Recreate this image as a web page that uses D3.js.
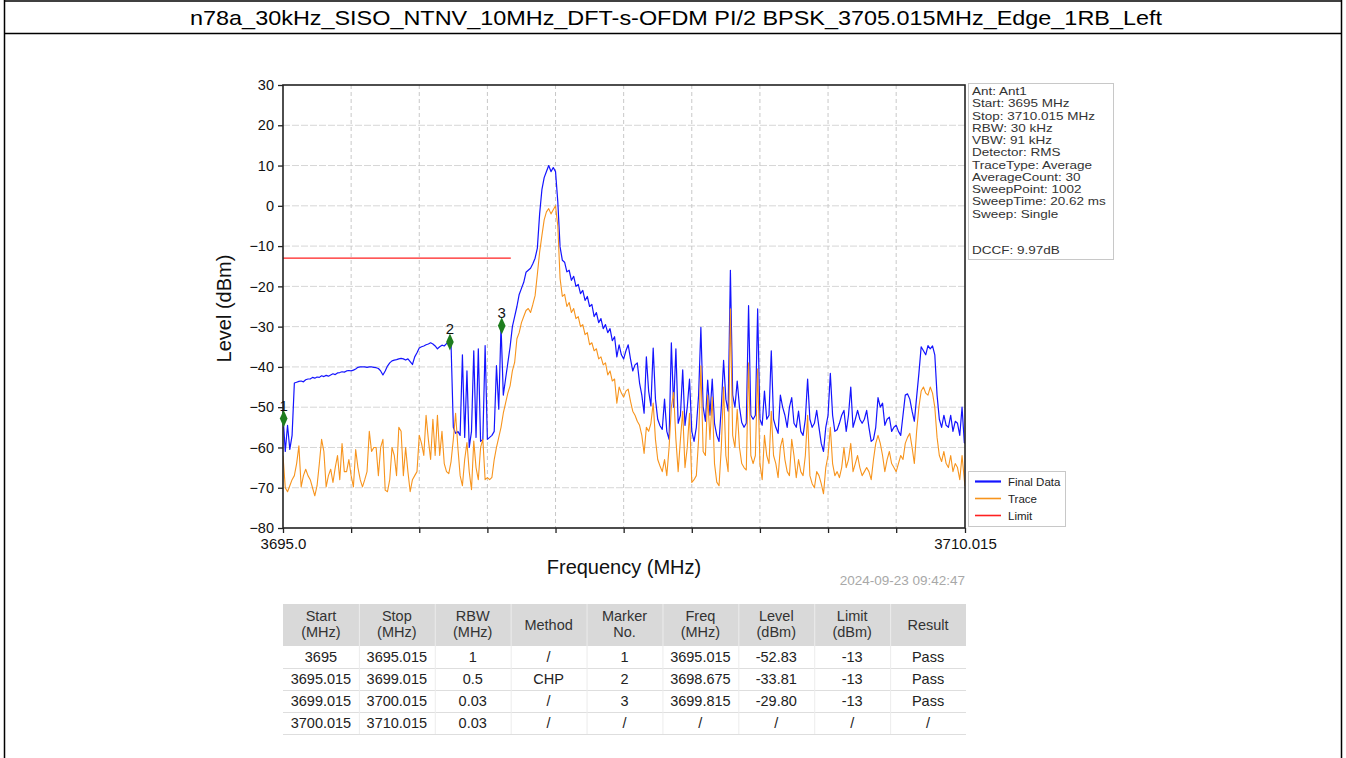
<!DOCTYPE html>
<html>
<head>
<meta charset="utf-8">
<script src="https://cdn.jsdelivr.net/npm/d3@7"></script>
<style>
  body { margin: 0; background: #fff; }
  svg { display: block; font-family: "Liberation Sans", Arial, sans-serif; }
</style>
</head>
<body>
<svg id="chart" width="1346" height="758"></svg>
<script>
// ---- Sweep settings ----
const titleText = "n78a_30kHz_SISO_NTNV_10MHz_DFT-s-OFDM PI/2 BPSK_3705.015MHz_Edge_1RB_Left";
const sweepStart = 3695;
const sweepStop = 3710.015;
const sweepStep = 0.05;

// ---- Final Data trace (dBm), one value per sweep step, last value at stop frequency ----
const finalData = [
  -52, -61, -54.5, -60.5, -57, -44, -43.8, -43.6, -43.5, -43.7, -43.2, -43, -43, -42.6, -42.8, -42.5, -42.6, -42.2, -42.4, -42.1,
  -42.3, -42, -41.7, -41.9, -41.5, -41.4, -41.2, -41.3, -41, -40.9, -41, -40.8, -40.5, -40.1, -40, -40, -40, -40.1, -40, -40,
  -40.1, -40.2, -40.4, -41, -42, -41, -39.8, -39, -38.5, -38.3, -38.2, -38, -37.9, -38, -38.3, -38, -38.7, -39.4, -37.5, -36.5,
  -35.3, -35, -34.8, -34.5, -34.3, -34, -34.3, -34.8, -35.5, -35, -34.6, -34.8, -34.2, -33.8, -34.5, -55, -56.5, -56, -57, -37,
  -57.5, -41, -60, -56, -36, -57.5, -35.5, -58.5, -58, -34.7, -58, -57.5, -57, -56, -39.7, -50.5, -29.8, -47, -43, -39,
  -35, -30, -27.5, -25, -22, -20.5, -19, -16.5, -16, -15.5, -14.4, -13, -10.5, -2, 4, 7, 8.5, 10, 8.5, 9.5,
  8.5, 1, -10.2, -13.5, -14, -16.4, -16, -18.5, -17.5, -20, -19.5, -21.8, -21, -23.5, -22.5, -25, -24.5, -27.5, -26.5, -29,
  -28, -30.5, -29.5, -31.5, -30.5, -33.5, -32.5, -37.5, -34.5, -37, -38, -36, -34.5, -38, -41, -39.5, -39, -44, -47, -51.5,
  -37.5, -46, -49.7, -35.3, -48, -53, -54.6, -55.5, -48, -56, -58, -34, -50, -35.5, -54, -52, -40.7, -54.5, -50, -43,
  -56, -58.5, -55, -47, -30.2, -50, -53.5, -43.3, -52, -43, -54, -57, -58.5, -50, -38.4, -48, -51, -16, -47, -50,
  -43.5, -50, -53.8, -55, -54, -24.8, -52, -53, -52, -25.6, -53, -54.5, -46, -53, -52, -36, -53, -55, -56.5, -47,
  -50, -52, -55, -50, -47.6, -54, -55, -51, -56, -57, -53, -43, -53, -55, -54, -50.8, -55, -59, -61, -55,
  -52, -41.6, -52, -56, -55.6, -54, -52, -50.8, -56, -52, -45, -55, -53, -50.8, -53, -54, -53, -50.8, -55, -58.5,
  -58, -55, -47.6, -50, -49, -54.5, -53, -52.5, -56, -55, -54.5, -56, -57, -52, -47, -46.7, -48, -51, -53.5, -47.5,
  -41.6, -35, -36, -37, -34.7, -35.5, -34.8, -37, -47, -53, -55, -52, -54.5, -55, -52, -56, -53.5, -54, -57, -50,
  -58.8, -59
];

// ---- Trace (dBm) ----
const traceData = [
  -62, -70, -71, -69.5, -68, -67, -64, -59.6, -69.8, -67, -65.4, -67, -68, -70, -72, -69.5, -64, -58, -61, -69.8,
  -67, -65.4, -68.7, -65, -62, -68, -59, -66, -66, -63, -67, -69.8, -60.5, -65, -68, -69.8, -68, -66, -56, -61,
  -60, -60, -67, -60, -58, -70.6, -71, -68, -60, -62, -67, -55, -56, -67, -60, -66, -71, -68, -67, -66,
  -57, -59, -62, -52, -58, -63, -53, -62, -52, -62, -56, -64, -66, -66.5, -63.5, -58, -51.5, -60, -67, -69.5,
  -63, -58.8, -66, -70.5, -58.4, -65, -68, -60, -58, -68, -67.5, -68, -67.4, -63, -60, -57.5, -55, -51.5, -49, -46.5,
  -44.7, -41, -38.9, -33, -31.5, -29, -27.5, -26, -25.5, -26.5, -24.5, -22.3, -17, -11.5, -7.4, -3.5, -1.5, -0.7, -2, -1,
  0, -5, -18, -22.5, -22, -25, -24, -26.5, -25.5, -28, -27.5, -30, -29.5, -32, -31.5, -34.5, -34, -36, -35.5, -38,
  -37.5, -39.5, -39, -42, -41, -43.5, -43, -49, -45, -46.5, -47.5, -46, -45.5, -48.5, -51, -52, -53.5, -54.5, -57, -61.5,
  -55, -56, -54, -49, -58, -63, -64.6, -66, -63, -67, -60, -50, -46.3, -58, -66, -58, -51, -65, -60, -51.5,
  -68.7, -68, -67, -58, -39.7, -61, -62, -47, -58, -47.5, -64, -68.6, -69.5, -60, -45, -62, -66, -25.6, -57, -60,
  -50.5, -60, -64, -65, -65.6, -39, -62, -64, -62, -40.5, -64, -68, -57, -62, -64, -51, -62, -64, -67.5, -60,
  -57.7, -63, -66, -67, -58, -62, -67.5, -63, -66, -67, -62, -52, -67, -69, -70, -66, -67, -69, -71.5, -65,
  -62, -55, -64, -67, -66, -67.5, -65, -60, -65, -63, -59, -66, -64, -62, -65, -67, -66, -65, -66, -68,
  -63, -59, -57, -59, -62, -66, -63, -61, -64, -65, -66, -64, -62, -63, -59, -57.5, -56.5, -60, -64, -56,
  -50, -46, -45, -46.5, -47, -45, -46.5, -50, -57.5, -62, -63.5, -61, -64, -65, -62, -66, -64, -65, -68, -62,
  -68, -69.6
];

// ---- Limit line ----
const limitStart = 3695;
const limitStop = 3700.015;
const limitLevel = -13;

// ---- Markers ----
const markerNo = [1, 2, 3];
const markerFreq = [3695.015, 3698.675, 3699.815];
const markerLevel = [-52.83, -33.81, -29.80];

// ---- Axes ----
const yTicks = [30, 20, 10, 0, -10, -20, -30, -40, -50, -60, -70, -80];
const xTicks = [3695, 3696.5, 3698, 3699.5, 3701, 3702.5, 3704, 3705.5, 3707, 3708.5, 3710.015];
const xTickLabels = { 3695: "3695.0", 3710.015: "3710.015" };

// ---- Instrument settings box ----
const infoLines = [
  "Ant: Ant1", "Start: 3695 MHz", "Stop: 3710.015 MHz", "RBW: 30 kHz", "VBW: 91 kHz",
  "Detector: RMS", "TraceType: Average", "AverageCount: 30", "SweepPoint: 1002",
  "SweepTime: 20.62 ms", "Sweep: Single", "", "", "DCCF: 9.97dB"
];
const timestamp = "2024-09-23 09:42:47";

// ---- Legend ----
const legendNames = ["Final Data", "Trace", "Limit"];
const legendColors = ["#1414ff", "#f7941d", "#ff2020"];

// ---- Result table ----
const tableHeader = [
  ["Start", "(MHz)"], ["Stop", "(MHz)"], ["RBW", "(MHz)"], ["Method"], ["Marker", "No."],
  ["Freq", "(MHz)"], ["Level", "(dBm)"], ["Limit", "(dBm)"], ["Result"]
];
const tableRows = [
  ["3695", "3695.015", "1", "/", "1", "3695.015", "-52.83", "-13", "Pass"],
  ["3695.015", "3699.015", "0.5", "CHP", "2", "3698.675", "-33.81", "-13", "Pass"],
  ["3699.015", "3700.015", "0.03", "/", "3", "3699.815", "-29.80", "-13", "Pass"],
  ["3700.015", "3710.015", "0.03", "/", "/", "/", "/", "/", "/"]
];

// ================= drawing =================
const svg = d3.select("#chart");

// page frame and title cell
const frame = svg.append("g").attr("stroke", "#000").attr("stroke-width", 1.5);
frame.append("line").attr("x1", 4).attr("x2", 1342).attr("y1", 1).attr("y2", 1);
frame.append("line").attr("x1", 4).attr("x2", 1342).attr("y1", 33.5).attr("y2", 33.5);
frame.append("line").attr("x1", 4.5).attr("x2", 4.5).attr("y1", 0).attr("y2", 758);
frame.append("line").attr("x1", 1341.5).attr("x2", 1341.5).attr("y1", 0).attr("y2", 758);

svg.append("text")
  .attr("transform", "translate(676,25) scale(1.115,1)")
  .attr("text-anchor", "middle")
  .attr("font-size", 21)
  .attr("fill", "#000")
  .text(titleText);

// plot scales
const plot = { left: 283, right: 965, top: 85, bottom: 528 };
const x = d3.scaleLinear().domain([sweepStart, sweepStop]).range([plot.left, plot.right]);
const y = d3.scaleLinear().domain([-80, 30]).range([plot.bottom, plot.top]);

// gridlines
const grid = svg.append("g");
grid.selectAll("line.h").data(yTicks.filter(v => v > -80 && v < 30)).join("line")
  .attr("x1", plot.left).attr("x2", plot.right)
  .attr("y1", d => y(d)).attr("y2", d => y(d))
  .attr("stroke", "#d6d6d6").attr("stroke-width", 1).attr("stroke-dasharray", "7,2");
grid.selectAll("line.v").data(xTicks.slice(1, -1)).join("line")
  .attr("x1", d => x(d)).attr("x2", d => x(d))
  .attr("y1", plot.top).attr("y2", plot.bottom)
  .attr("stroke", "#c8c8c8").attr("stroke-width", 1).attr("stroke-dasharray", "4,3");

// traces
const freqs = finalData.map((_, i) => i < finalData.length - 1 ? sweepStart + i * sweepStep : sweepStop);
const line = d3.line().x(d => x(d[0])).y(d => y(d[1]));

svg.append("defs").append("clipPath").attr("id", "plotClip")
  .append("rect").attr("x", plot.left).attr("y", plot.top)
  .attr("width", plot.right - plot.left).attr("height", plot.bottom - plot.top);

const traces = svg.append("g").attr("clip-path", "url(#plotClip)");
traces.append("path")
  .datum(freqs.map((f, i) => [f, finalData[i]]))
  .attr("d", line).attr("fill", "none")
  .attr("stroke", legendColors[0]).attr("stroke-width", 1.2).attr("stroke-linejoin", "round");
traces.append("path")
  .datum(freqs.map((f, i) => [f, traceData[i]]))
  .attr("d", line).attr("fill", "none")
  .attr("stroke", legendColors[1]).attr("stroke-width", 1.1).attr("stroke-linejoin", "round");
traces.append("path")
  .datum([[limitStart, limitLevel], [limitStop, limitLevel]])
  .attr("d", line).attr("fill", "none")
  .attr("stroke", legendColors[2]).attr("stroke-width", 1.3);

// frame around plot
svg.append("rect")
  .attr("x", plot.left).attr("y", plot.top)
  .attr("width", plot.right - plot.left).attr("height", plot.bottom - plot.top)
  .attr("fill", "none").attr("stroke", "#222").attr("stroke-width", 1.6);

// axes
const yAxis = svg.append("g").attr("transform", `translate(${plot.left},0)`)
  .call(d3.axisLeft(y).tickValues(yTicks).tickSize(5).tickPadding(4).tickFormat(d3.format("d")));
yAxis.select(".domain").remove();
yAxis.selectAll("text").attr("font-size", 14.5).attr("fill", "#111")
  .attr("font-family", "'Liberation Sans', Arial, sans-serif");
yAxis.selectAll("line").attr("stroke", "#222").attr("stroke-width", 1.3);

const xAxis = svg.append("g").attr("transform", `translate(0,${plot.bottom})`)
  .call(d3.axisBottom(x).tickValues(xTicks).tickSize(5).tickPadding(5)
    .tickFormat(d => xTickLabels[d] || ""));
xAxis.select(".domain").remove();
xAxis.selectAll("text").attr("font-size", 15).attr("fill", "#111")
  .attr("font-family", "'Liberation Sans', Arial, sans-serif");
xAxis.selectAll("line").attr("stroke", "#222").attr("stroke-width", 1.3);

// axis titles
svg.append("text")
  .attr("transform", `translate(231,${(plot.top + plot.bottom) / 2 + 2}) rotate(-90)`)
  .attr("text-anchor", "middle").attr("font-size", 20).attr("fill", "#111")
  .text("Level (dBm)");
svg.append("text")
  .attr("x", 624).attr("y", 574)
  .attr("text-anchor", "middle").attr("font-size", 20).attr("fill", "#111")
  .text("Frequency (MHz)");
svg.append("text")
  .attr("x", 965).attr("y", 585)
  .attr("text-anchor", "end").attr("font-size", 13.5).attr("fill", "#a8a8a8")
  .text(timestamp);

// markers
const diamond = d3.symbol().type(d3.symbolDiamond).size(70);
const mk = svg.append("g");
markerNo.forEach((n, i) => {
  const mx = x(markerFreq[i]), my = y(markerLevel[i]);
  mk.append("path").attr("d", diamond())
    .attr("transform", `translate(${mx},${my}) scale(0.85,1.1)`)
    .attr("fill", "#1e7d1e");
  mk.append("text").attr("x", mx).attr("y", my - 8)
    .attr("text-anchor", "middle").attr("font-size", 15).attr("fill", "#111")
    .text(n);
});

// instrument settings box
const info = svg.append("g");
info.append("rect").attr("x", 968.5).attr("y", 83.5).attr("width", 145).attr("height", 176)
  .attr("fill", "#fff").attr("stroke", "#c8c8c8").attr("stroke-width", 1);
info.selectAll("text").data(infoLines).join("text")
  .attr("transform", (d, i) => `translate(972,${95 + i * 12.25}) scale(1.25,1)`)
  .attr("font-size", 10.8).attr("fill", "#333")
  .text(d => d);

// legend
const lg = svg.append("g");
lg.append("rect").attr("x", 968.5).attr("y", 471.5).attr("width", 97).attr("height", 55)
  .attr("fill", "#fff").attr("stroke", "#c8c8c8").attr("stroke-width", 1);
legendNames.forEach((name, i) => {
  const ly = 481.5 + i * 17;
  lg.append("line").attr("x1", 975).attr("x2", 1001).attr("y1", ly).attr("y2", ly)
    .attr("stroke", legendColors[i]).attr("stroke-width", i === 0 ? 2.2 : 1.6);
  lg.append("text").attr("x", 1008).attr("y", ly + 4)
    .attr("font-size", 11.5).attr("fill", "#222").text(name);
});

// result table
const tbl = { left: 283, right: 966, headTop: 604, headBottom: 646, rowH: 22 };
const colW = (tbl.right - tbl.left) / tableHeader.length;
const tg = svg.append("g").attr("font-size", 14.5).attr("fill", "#222");
tg.append("rect").attr("x", tbl.left).attr("y", tbl.headTop)
  .attr("width", tbl.right - tbl.left).attr("height", tbl.headBottom - tbl.headTop)
  .attr("fill", "#d9d9d9");
tableHeader.forEach((h, c) => {
  const cx = tbl.left + colW * (c + 0.5);
  h.forEach((t, k) => {
    tg.append("text").attr("x", cx)
      .attr("y", h.length === 1 ? 630 : 621 + k * 16)
      .attr("text-anchor", "middle").attr("fill", "#333").text(t);
  });
});
tableRows.forEach((row, r) => {
  const top = tbl.headBottom + r * tbl.rowH;
  tg.append("line").attr("x1", tbl.left).attr("x2", tbl.right)
    .attr("y1", top + tbl.rowH + 0.5).attr("y2", top + tbl.rowH + 0.5)
    .attr("stroke", "#dedede");
  row.forEach((t, c) => {
    tg.append("text").attr("x", tbl.left + colW * (c + 0.5)).attr("y", top + 16)
      .attr("text-anchor", "middle").attr("fill", "#222").text(t);
  });
});
for (let c = 1; c < tableHeader.length; c++) {
  tg.append("line")
    .attr("x1", tbl.left + colW * c + 0.5).attr("x2", tbl.left + colW * c + 0.5)
    .attr("y1", tbl.headTop).attr("y2", tbl.headBottom + tableRows.length * tbl.rowH)
    .attr("stroke", "#ececec");
}
</script>
</body>
</html>
